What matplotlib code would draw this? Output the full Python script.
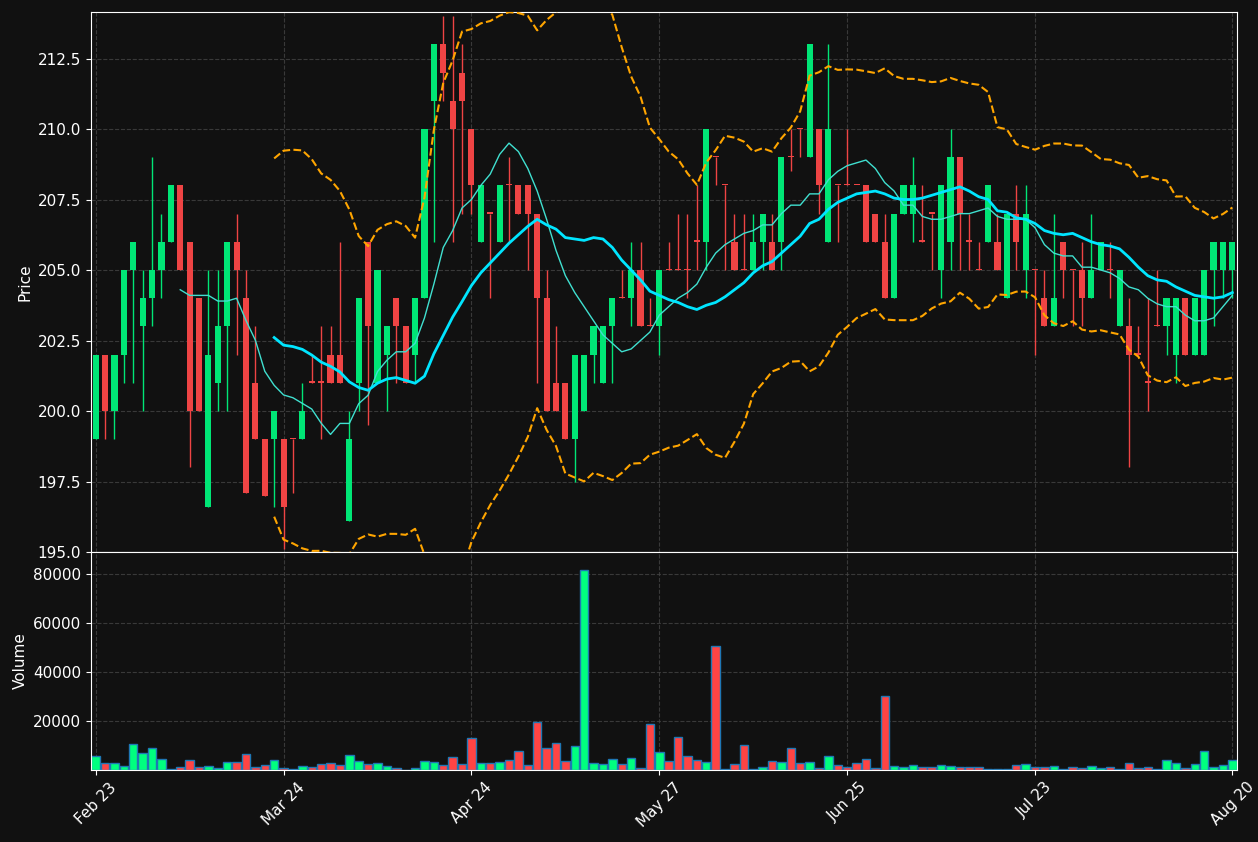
import matplotlib
matplotlib.use("Agg")
import matplotlib.pyplot as plt
import numpy as np
import pandas as pd

tick_labels = ["Feb 23", "Mar 24", "Apr 24", "May 27", "Jun 25", "Jul 23", "Aug 20"]
tick_idx = [0, 20, 40, 60, 80, 100, 121]

opens = [199,202,200,202,205,203,204,205,206,208,206,204,196.6,201,203,206,204,201,199,199,
         199,199,199,201,201,202,202,196.1,201,206,201,202,204,203,202,204,211,213,211,212,
         210,206,207,206,208,208,208,207,204,201,201,199,200,202,201,203,204,204,205,203,
         203,205,205,205,206,206,209,208,206,205,205,206,206,206,209,210,209,210,206,208,
         208,208,208,207,206,204,207,207,206,207,205,206,209,206,205,206,206,204,207,205,
         205,204,203,206,205,205,204,205,205,203,203,202,201,203,203,202,204,202,202,205,
         205,205]
closes = [202,200,202,205,206,204,205,206,208,205,200,200,202,203,206,205,197.1,199,197,200,
          196.6,199,200,201,201,201,201,199,204,203,205,203,203,201,204,210,213,212,210,211,
          208,208,207,208,208,207,207,204,200,200,199,202,202,203,203,204,204,205,203,203,
          205,205,205,205,206,210,209,208,205,205,206,207,205,209,209,210,213,208,210,208,
          208,208,206,206,204,207,208,208,206,207,208,209,207,206,205,208,205,207,206,207,
          205,203,204,205,205,204,205,206,205,205,202,202,201,203,204,204,202,204,205,206,
          206,206]
highs = [202,202,202,205,206,205,209,207,208,208,206,204,205,205,206,207,205,203,199,200,
         199,199,201,202,203,203,206,200,204,206,205,203,204,203,204,210,213,214,214,213,
         210,208,207,208,209,208,208,207,205,203,201,202,202,203,203,204,205,206,206,204,
         205,206,207,207,208,210,209,208,207,207,207,207,207,209,210,210,213,210,213,208,
         210,208,208,207,207,207,208,209,208,207,208,210,209,207,206,208,207,207,208,208,
         205,205,207,206,205,206,207,206,206,205,204,203,204,205,204,204,204,204,205,206,
         206,206]
lows = [199,199,199,201,201,200,203,204,206,205,198,200,196.6,200,200,202,197.1,199,197,196.6,
        195.1,197.1,199,201,199,201,201,196.1,200,199.5,201,200,201,201,201,204,206,211,206,207,
        207,206,204,206,206,207,205,201,200,200,199,197.5,200,201,201,201,204,203,203,203,
        202,205,205,204,205,205,208,205,205,205,205,205,205,205,208.5,209,209,207,206,206,
        208,208,206,206,204,204,207,206,206,205,204,205,205,205,205,206,205,204,205,204,
        202,203,203,204,203,203,204,205,204,203,198,202,200,203,202,201,202,202,202,203,
        204,204]
volumes = [5700,2800,2800,1800,10800,7000,9100,4500,560,1100,4000,1100,1500,1000,3200,3200,6600,1100,2000,4000,
           700,300,1500,1100,2400,2800,2000,6200,3600,2400,2800,1500,700,200,700,3600,3200,2000,5300,2400,
           12900,2800,2800,3200,4000,7800,2000,19600,9100,11200,3600,9900,81500,2800,2400,4500,2400,4900,700,18700,
           7400,3600,13300,5700,4000,3200,50800,300,2400,10400,600,1100,3600,3200,9100,2800,3200,700,5700,2000,
           1100,2800,4500,700,30100,1500,1100,2000,1100,1100,2000,1500,1100,1100,1100,300,300,300,2000,2400,
           1100,1100,1500,300,1100,700,1500,700,1100,300,2800,700,1100,300,4000,2800,700,2400,7800,1100,
           2000,4000]

BG = "#111111"
GREEN = "#00e676"
RED = "#ef4444"
VGREEN = "#00ff7f"
VRED = "#ff4444"

o = np.array(opens, float); c = np.array(closes, float)
h = np.array(highs, float); l = np.array(lows, float)
v = np.array(volumes, float)
x = np.arange(len(o))
up = c > o
cols = np.where(up, GREEN, RED)

s = pd.Series(c)
ma10 = s.rolling(10).mean()
ma20 = s.rolling(20).mean()
sd20 = s.rolling(20).std()
bbu = ma20 + 2 * sd20
bbl = ma20 - 2 * sd20

fig = plt.figure(figsize=(12.58, 8.42), dpi=100, facecolor=BG)
ax = fig.add_axes([91/1258, 1-552/842, (1237-91)/1258, (552-12)/842], facecolor=BG)
axv = fig.add_axes([91/1258, 1-770/842, (1237-91)/1258, (770-552)/842], facecolor=BG, sharex=ax)

ax.vlines(x, l, h, colors=cols, linewidth=1, zorder=2)
body = np.maximum(np.abs(c - o), 0.05)
ax.bar(x, body, bottom=np.minimum(o, c), width=0.65, color=cols, zorder=3)
ax.plot(x, ma10, color="#40e0d0", lw=1, zorder=4)
ax.plot(x, ma20, color="#00e5ff", lw=2, zorder=4)
ax.plot(x, bbu, color="#ffa500", lw=1.5, ls="--", zorder=4)
ax.plot(x, bbl, color="#ffa500", lw=1.5, ls="--", zorder=4)
ax.set_ylim(195, 214.15)
ax.set_xlim(-0.5, len(o) - 0.5)
ax.set_ylabel("Price", color="white", fontsize=11)

vcols = np.where(up, VGREEN, VRED)
axv.bar(x, v, width=0.9, color=vcols, edgecolor="#1f77b4", linewidth=1)
axv.set_ylim(0, 89000)
axv.set_yticks([20000, 40000, 60000, 80000])
axv.set_ylabel("Volume", color="white", fontsize=11)
axv.set_xticks(tick_idx)
axv.set_xticklabels(tick_labels, rotation=45)
plt.setp(ax.get_xticklabels(), visible=False)

for a in (ax, axv):
    a.grid(True, color="#444444", ls="--", lw=0.8, alpha=0.8)
    a.set_axisbelow(True)
    a.tick_params(colors="white", labelsize=11)
    for sp in a.spines.values():
        sp.set_color("white")

fig.savefig("out.png", dpi=100, facecolor=BG)
